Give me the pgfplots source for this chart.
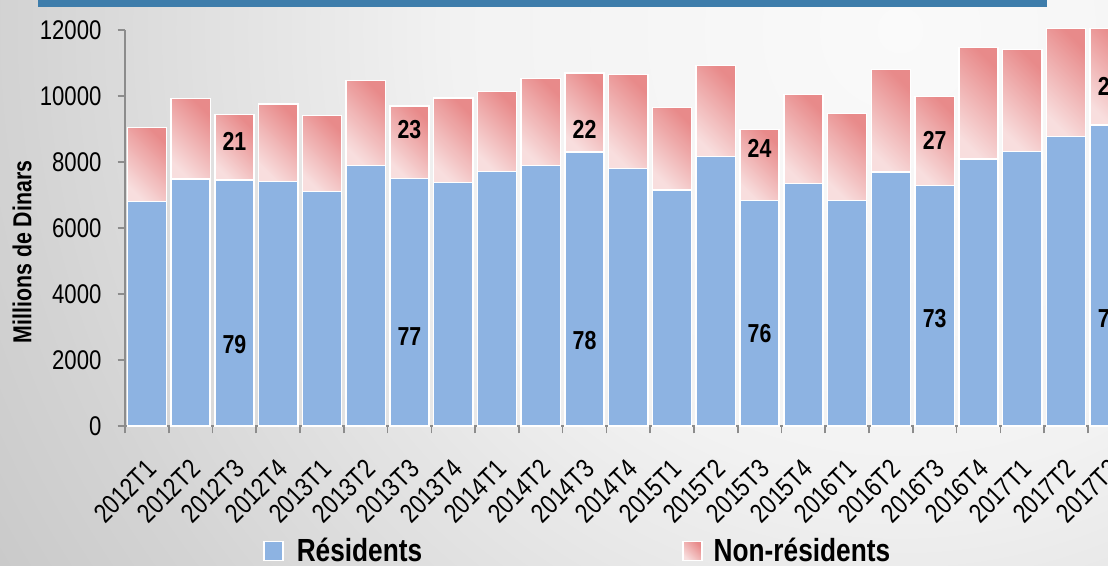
\documentclass[border=0pt]{standalone}
\usepackage{pgfplots}
\usepackage{pgfplotstable}
\pgfplotsset{compat=1.18}
\usepackage{fontspec}
\setmainfont{Liberation Sans}[FakeStretch=0.82]

\definecolor{resid}{HTML}{8DB3E2}
\definecolor{nonresA}{HTML}{F8DEDE}
\definecolor{nonresB}{HTML}{E88A8A}
\definecolor{topbar}{HTML}{3E7DAB}
\definecolor{axisgray}{HTML}{8C8C8C}

\pgfdeclareradialshading{bgshade}{\pgfpointorigin}{%
  color(0bp)=(white!98!black); color(10bp)=(white!95!black);
  color(20bp)=(white!83!black); color(26bp)=(white!77!black);
  color(41bp)=(white!64!black); color(48bp)=(white!60!black);
  color(60bp)=(white!58!black)}

\pgfplotsset{sqlegend/.style={legend image code/.code={%
  \draw[##1] (0pt,-4.75pt) rectangle (9.5pt,4.75pt);}}}

% quarter, residents, non-residents (millions de dinars)
\pgfplotstableread{
x res non
0 6797 2255
1 7485 2445
2 7455 1990
3 7415 2343
4 7100 2303
5 7900 2564
6 7494 2203
7 7373 2566
8 7707 2424
9 7889 2646
10 8303 2394
11 7808 2838
12 7152 2494
13 8161 2769
14 6830 2149
15 7343 2707
16 6830 2645
17 7697 3101
18 7293 2697
19 8091 3384
20 8324 3079
21 8767 3273
22 9121 2919
}\data

\tikzset{pct/.style={font=\bfseries\fontsize{13}{15}\selectfont}}

\begin{document}
\begin{tikzpicture}
\begin{scope}
\clip (0,0) rectangle (554pt,283pt);
\shade[shading=bgshade] (-100pt,-282pt) rectangle (1000pt,818pt);
\end{scope}
\fill[topbar] (19pt,279.5pt) rectangle (523.5pt,283pt);
\node[rotate=90, font=\bfseries\fontsize{13}{15}\selectfont] at (11pt,157pt) {Millions de Dinars};

\begin{axis}[
    at={(62.5pt,70pt)}, anchor=south west,
    scale only axis, width=503.3pt, height=198pt,
    xmin=-0.5, xmax=22.5, ymin=0, ymax=12000,
    clip=false,
    axis lines*=left,
    axis line style={axisgray, line width=0.8pt},
    xtick={-0.5,0.5,...,22.5},
    x tick label as interval,
    xticklabels={2012T1,2012T2,2012T3,2012T4,2013T1,2013T2,2013T3,2013T4,
      2014T1,2014T2,2014T3,2014T4,2015T1,2015T2,2015T3,2015T4,
      2016T1,2016T2,2016T3,2016T4,2017T1,2017T2,2017T3},
    ytick={0,2000,...,12000},
    scaled y ticks=false,
    tick align=outside, major tick length=3.75pt,
    tick style={axisgray, line width=0.8pt},
    xticklabel style={yshift=-10.5pt, xshift=-1pt, rotate=45, anchor=north east,
      inner sep=1pt, font=\fontsize{13.5}{15}\selectfont},
    yticklabel style={xshift=-4.5pt, font=\fontsize{13.5}{15}\selectfont},
    /pgf/number format/1000 sep={},
    /pgf/number format/assume math mode=true,
    legend columns=2,
    legend style={draw=none, fill=none, at={(0.137,-0.316)}, anchor=west,
      inner sep=0pt, font=\bfseries\fontsize{16}{18}\selectfont},
]
\addplot[ybar, bar width=19.6pt, bar shift=0pt, fill=resid, draw=white,
  line width=0.75pt, sqlegend]
  table[x=x, y=res] {\data};
% one shaded segment per quarter, from residents up to the total
\pgfplotsinvokeforeach{0,...,22}{%
  \pgfplotstablegetelem{#1}{res}\of\data \let\resv\pgfplotsretval
  \pgfplotstablegetelem{#1}{non}\of\data
  \pgfmathsetmacro\totv{\resv+\pgfplotsretval}
  \pgfmathsetmacro\xa{#1-0.448}
  \pgfmathsetmacro\xb{#1+0.448}
  \addplot[draw=white, line width=0.75pt, bottom color=nonresA,
    top color=nonresB, shading angle=-45, sqlegend]
    coordinates {(\xa,\resv) (\xb,\resv) (\xb,\totv) (\xa,\totv)} -- cycle;
}
\legend{\hspace*{4.5pt}Résidents\hspace*{128pt}, \hspace*{3.5pt}Non-résidents}

\coordinate (l1) at (axis cs:2,2455);
\coordinate (u1) at (axis cs:2,8615);
\coordinate (l2) at (axis cs:6,2700);
\coordinate (u2) at (axis cs:6,8970);
\coordinate (l3) at (axis cs:10,2600);
\coordinate (u3) at (axis cs:10,8990);
\coordinate (l4) at (axis cs:14,2810);
\coordinate (u4) at (axis cs:14,8415);
\coordinate (l5) at (axis cs:18,3264);
\coordinate (u5) at (axis cs:18,8667);
\coordinate (l6) at (axis cs:22,3270);
\coordinate (u6) at (axis cs:22,10300);
\end{axis}
\node[pct] at (l1) {79};
\node[pct] at (u1) {21};
\node[pct] at (l2) {77};
\node[pct] at (u2) {23};
\node[pct] at (l3) {78};
\node[pct] at (u3) {22};
\node[pct] at (l4) {76};
\node[pct] at (u4) {24};
\node[pct] at (l5) {73};
\node[pct] at (u5) {27};
\node[pct] at (l6) {76};
\node[pct] at (u6) {24};
\pgfresetboundingbox
\useasboundingbox (0,0) rectangle (554pt,283pt);
\end{tikzpicture}
\end{document}
